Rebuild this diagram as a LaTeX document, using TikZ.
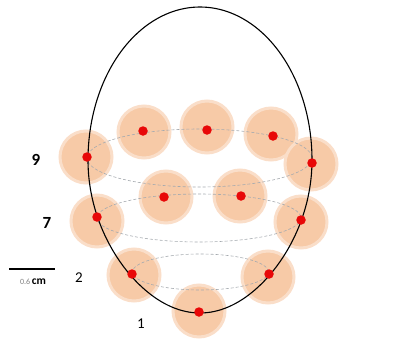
\documentclass[tikz,border=0pt]{standalone}
\usepackage{fontspec}
\setmainfont{Carlito}
\definecolor{peach}{RGB}{247,202,167}
\definecolor{halo}{RGB}{250,222,201}
\definecolor{dotred}{RGB}{232,8,8}
\definecolor{ringgray}{RGB}{165,170,175}
\begin{document}
\begin{tikzpicture}[x=1pt,y=-1pt,
  electrode/.style={circle,fill=peach,draw=halo,line width=3pt,minimum size=52pt,inner sep=0pt},
  sensor/.style={circle,fill=dotred,minimum size=9.5pt,inner sep=0pt},
  ring/.style={ringgray,line width=0.6pt,dash pattern=on 3pt off 2pt},
  rowlabel/.style={font=\fontsize{17}{17}\selectfont\bfseries,inner sep=0pt},
  numlabel/.style={font=\fontsize{15}{15}\selectfont,inner sep=0pt}]
\useasboundingbox (0,0) rectangle (402,343);
% electrodes (pale discs)
\foreach \n/\x/\y in {a1/86/157,a2/144/132,a3/207/127,a4/271/134,a5/311/164,
                      b1/97/221,b2/166/197,b3/240/196,b4/301/222,
                      c1/134/275,c2/268/277,d1/199/311}
  \node[electrode] (e\n) at (\x,\y) {};
% dashed rings
\draw[ring] (199.5,158) ellipse [x radius=112.5, y radius=29];
\draw[ring] (199,218) ellipse [x radius=102, y radius=24];
\draw[ring] (200.5,272) ellipse [x radius=68, y radius=18];
% head outline (egg)
\draw[black,line width=1.1pt]
  plot[domain=0:360,samples=181,smooth cycle]
  ({200+112*cos(\x)*(1-0.1*(max(0,sin(\x)))^2)},{160+153*sin(\x)});
% sensor points
\foreach \n/\x/\y in {a1/87/157,a2/143/131,a3/207/130,a4/273/136,a5/312/163,
                      b1/97/217,b2/164/197,b3/241/196,b4/301/220,
                      c1/132/274,c2/269/274,d1/199/312}
  \node[sensor] (s\n) at (\x,\y) {};
% labels
\node[rowlabel] (l9) at (36,160) {9};
\node[rowlabel] (l7) at (47,223) {7};
\node[numlabel] (l2) at (79,278) {2};
\node[numlabel] (l1) at (141,324) {1};
% scale bar
\coordinate (bar0) at (9,269);
\coordinate (bar1) at (55,269);
\draw[line width=1.3pt] (bar0) -- (bar1);
\node[inner sep=0pt,anchor=base] (scale) at (33,284.5)
  {{\color{gray}\fontsize{8}{8}\selectfont 0.6}\,{\fontsize{11.5}{11.5}\selectfont\bfseries cm}};
\end{tikzpicture}
\end{document}
